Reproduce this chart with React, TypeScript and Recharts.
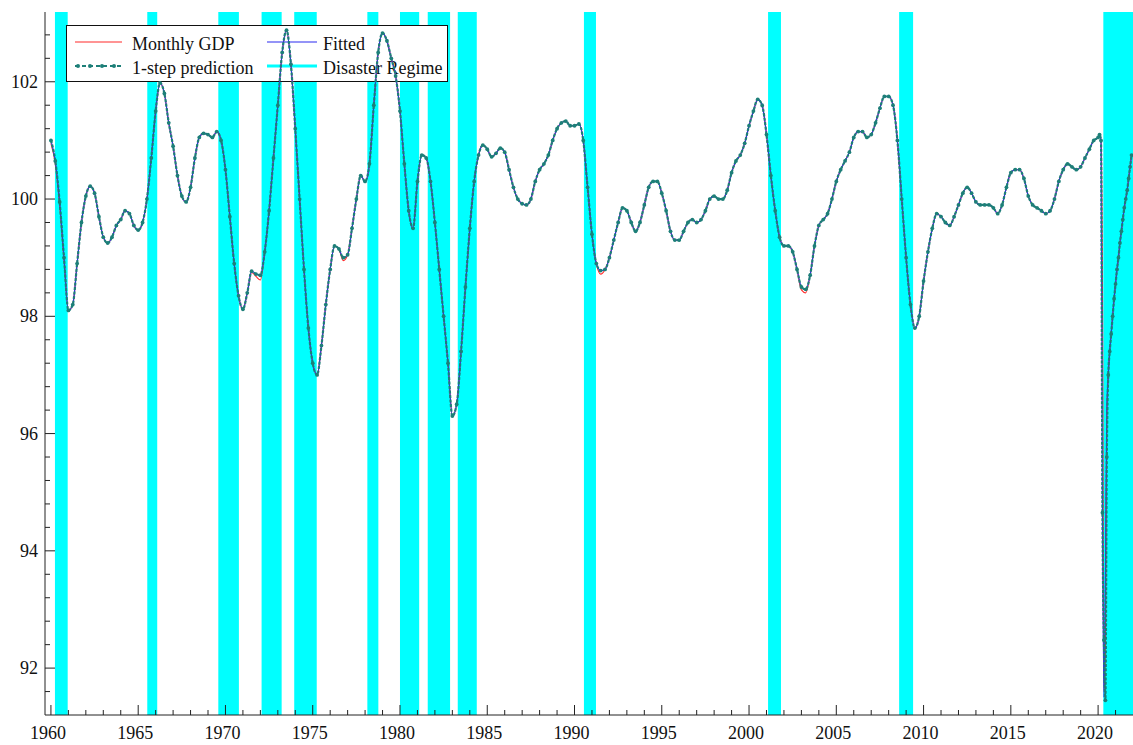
import { LineChart, Line, XAxis, YAxis, ReferenceArea } from "recharts";

const W = 1133;
const H = 745;
const FONT = '"Liberation Serif", "Times New Roman", serif';
const RED = "#ff2a2a";
const BLUE = "#2b2bf0";
const TEAL = "#1d7f78";
const CYAN = "#00ffff";
const INK = "#222";

// quarterly readings, 1960Q1 .. 2019Q4
const gdpQ = [
  100.95, 100.6, 99.9, 98.95, 98.1, 98.2, 98.9, 99.6, 100.05, 100.22, 100.1, 99.7,
  99.35, 99.25, 99.35, 99.55, 99.65, 99.8, 99.75, 99.55, 99.47, 99.6, 100.0, 100.7,
  101.5, 101.98, 101.8, 101.3, 100.9, 100.4, 100.05, 99.95, 100.2, 100.7, 101.05, 101.12,
  101.1, 101.05, 101.15, 101.0, 100.5, 99.7, 98.9, 98.35, 98.12, 98.4, 98.75, 98.68,
  98.62, 99.1, 99.8, 100.7, 101.6, 102.5, 102.88, 102.3, 101.2, 100.0, 98.8, 97.8,
  97.2, 97.0, 97.5, 98.2, 98.8, 99.2, 99.15, 98.95, 99.05, 99.5, 100.0, 100.4,
  100.3, 100.6, 101.6, 102.5, 102.83, 102.7, 102.4, 102.1, 101.5, 100.6, 99.8, 99.5,
  100.3, 100.75, 100.7, 100.3, 99.6, 98.8, 98.0, 97.2, 96.3, 96.5, 97.4, 98.5,
  99.5, 100.3, 100.75, 100.92, 100.85, 100.72, 100.78, 100.87, 100.8, 100.5, 100.2, 100.0,
  99.92, 99.9, 100.0, 100.3, 100.5, 100.6, 100.75, 101.0, 101.2, 101.3, 101.33, 101.25,
  101.25, 101.28, 101.0, 100.2, 99.4, 98.9, 98.72, 98.8, 99.0, 99.3, 99.6, 99.85,
  99.8, 99.6, 99.45, 99.6, 99.9, 100.2, 100.3, 100.3, 100.1, 99.8, 99.45, 99.3,
  99.3, 99.45, 99.6, 99.65, 99.6, 99.65, 99.8, 100.0, 100.05, 100.0, 100.0, 100.15,
  100.45, 100.65, 100.75, 100.95, 101.25, 101.5, 101.7, 101.6, 101.1, 100.4, 99.8, 99.35,
  99.2, 99.2, 99.1, 98.8, 98.45, 98.4, 98.7, 99.2, 99.55, 99.65, 99.75, 100.0,
  100.3, 100.5, 100.65, 100.8, 101.05, 101.15, 101.15, 101.05, 101.1, 101.3, 101.55, 101.75,
  101.75, 101.6, 101.0, 100.0, 99.0, 98.2, 97.8, 98.0, 98.6, 99.1, 99.5, 99.75,
  99.7, 99.6, 99.55, 99.7, 99.9, 100.1, 100.2, 100.1, 99.95, 99.9, 99.9, 99.9,
  99.85, 99.75, 99.9, 100.2, 100.45, 100.5, 100.5, 100.35, 100.05, 99.9, 99.85, 99.8,
  99.75, 99.8, 100.0, 100.3, 100.5, 100.6, 100.55, 100.5, 100.55, 100.7, 100.85, 101.0,
];

const fitQ = [
  101.0, 100.65, 99.95, 99.0, 98.1, 98.2, 98.9, 99.6, 100.05, 100.22, 100.1, 99.7,
  99.35, 99.25, 99.35, 99.55, 99.65, 99.8, 99.75, 99.55, 99.47, 99.6, 100.0, 100.7,
  101.5, 101.98, 101.8, 101.3, 100.9, 100.4, 100.05, 99.95, 100.2, 100.7, 101.05, 101.12,
  101.1, 101.05, 101.15, 101.0, 100.5, 99.7, 98.9, 98.35, 98.12, 98.4, 98.77, 98.72,
  98.7, 99.1, 99.8, 100.7, 101.6, 102.5, 102.88, 102.3, 101.2, 100.0, 98.8, 97.8,
  97.2, 97.0, 97.5, 98.2, 98.8, 99.2, 99.15, 99.0, 99.05, 99.5, 100.0, 100.4,
  100.3, 100.6, 101.6, 102.5, 102.83, 102.7, 102.4, 102.1, 101.5, 100.6, 99.8, 99.5,
  100.3, 100.75, 100.7, 100.3, 99.6, 98.8, 98.0, 97.2, 96.3, 96.5, 97.4, 98.5,
  99.5, 100.3, 100.75, 100.92, 100.85, 100.72, 100.78, 100.87, 100.8, 100.5, 100.2, 100.0,
  99.92, 99.9, 100.0, 100.3, 100.5, 100.6, 100.75, 101.0, 101.2, 101.3, 101.33, 101.25,
  101.25, 101.28, 101.0, 100.2, 99.4, 98.9, 98.78, 98.8, 99.0, 99.3, 99.6, 99.85,
  99.8, 99.6, 99.45, 99.6, 99.9, 100.2, 100.3, 100.3, 100.1, 99.8, 99.45, 99.3,
  99.3, 99.45, 99.6, 99.65, 99.6, 99.65, 99.8, 100.0, 100.05, 100.0, 100.0, 100.15,
  100.45, 100.65, 100.75, 100.95, 101.25, 101.5, 101.7, 101.6, 101.1, 100.4, 99.8, 99.35,
  99.2, 99.2, 99.1, 98.8, 98.5, 98.46, 98.7, 99.2, 99.55, 99.65, 99.75, 100.0,
  100.3, 100.5, 100.65, 100.8, 101.05, 101.15, 101.15, 101.05, 101.1, 101.3, 101.55, 101.75,
  101.75, 101.6, 101.0, 100.0, 99.0, 98.2, 97.8, 98.0, 98.6, 99.1, 99.5, 99.75,
  99.7, 99.6, 99.55, 99.7, 99.9, 100.1, 100.2, 100.1, 99.95, 99.9, 99.9, 99.9,
  99.85, 99.75, 99.9, 100.2, 100.45, 100.5, 100.5, 100.35, 100.05, 99.9, 99.85, 99.8,
  99.75, 99.8, 100.0, 100.3, 100.5, 100.6, 100.55, 100.5, 100.55, 100.7, 100.85, 101.0,
];

const predQ = [
  101.0, 100.65, 99.95, 99.0, 98.1, 98.2, 98.9, 99.6, 100.05, 100.22, 100.1, 99.7,
  99.35, 99.25, 99.35, 99.55, 99.65, 99.8, 99.75, 99.55, 99.47, 99.6, 100.0, 100.7,
  101.5, 101.98, 101.8, 101.3, 100.9, 100.4, 100.05, 99.95, 100.2, 100.7, 101.05, 101.12,
  101.1, 101.05, 101.15, 101.0, 100.5, 99.7, 98.9, 98.35, 98.12, 98.4, 98.77, 98.72,
  98.7, 99.1, 99.8, 100.7, 101.6, 102.5, 102.88, 102.3, 101.2, 100.0, 98.8, 97.8,
  97.2, 97.0, 97.5, 98.2, 98.8, 99.2, 99.15, 99.0, 99.05, 99.5, 100.0, 100.4,
  100.3, 100.6, 101.6, 102.5, 102.83, 102.7, 102.4, 102.1, 101.5, 100.6, 99.8, 99.5,
  100.3, 100.75, 100.7, 100.3, 99.6, 98.8, 98.0, 97.2, 96.3, 96.5, 97.4, 98.5,
  99.5, 100.3, 100.75, 100.92, 100.85, 100.72, 100.78, 100.87, 100.8, 100.5, 100.2, 100.0,
  99.92, 99.9, 100.0, 100.3, 100.5, 100.6, 100.75, 101.0, 101.2, 101.3, 101.33, 101.25,
  101.25, 101.28, 101.0, 100.2, 99.4, 98.9, 98.78, 98.8, 99.0, 99.3, 99.6, 99.85,
  99.8, 99.6, 99.45, 99.6, 99.9, 100.2, 100.3, 100.3, 100.1, 99.8, 99.45, 99.3,
  99.3, 99.45, 99.6, 99.65, 99.6, 99.65, 99.8, 100.0, 100.05, 100.0, 100.0, 100.15,
  100.45, 100.65, 100.75, 100.95, 101.25, 101.5, 101.7, 101.6, 101.1, 100.4, 99.8, 99.35,
  99.2, 99.2, 99.1, 98.8, 98.5, 98.46, 98.7, 99.2, 99.55, 99.65, 99.75, 100.0,
  100.3, 100.5, 100.65, 100.8, 101.05, 101.15, 101.15, 101.05, 101.1, 101.3, 101.55, 101.75,
  101.75, 101.6, 101.0, 100.0, 99.0, 98.2, 97.8, 98.0, 98.6, 99.1, 99.5, 99.75,
  99.7, 99.6, 99.55, 99.7, 99.9, 100.1, 100.2, 100.1, 99.95, 99.9, 99.9, 99.9,
  99.85, 99.75, 99.9, 100.2, 100.45, 100.5, 100.5, 100.35, 100.05, 99.9, 99.85, 99.8,
  99.75, 99.8, 100.0, 100.3, 100.5, 100.6, 100.55, 100.5, 100.55, 100.7, 100.85, 101.0,
];

// monthly readings, Jan 2020 .. Dec 2021
const gdpM = [
  101.05, 101.1, 101.0, 98.6, 91.6, 92.3, 96.2, 97.0, 97.4, 97.7, 98.0, 98.3,
  98.55, 98.8, 99.0, 99.25, 99.45, 99.65, 99.85, 100.0, 100.15, 100.35, 100.55, 100.75,
];
const fitM = [
  101.05, 101.1, 101.0, 94.6, 91.5, 93.5, 96.4, 97.0, 97.4, 97.7, 98.0, 98.3,
  98.55, 98.8, 99.0, 99.25, 99.45, 99.65, 99.85, 100.0, 100.15, 100.35, 100.55, 100.75,
];
const predM = [
  101.05, 101.1, 101.0, 94.65, 92.48, 91.45, 95.6, 97.0, 97.4, 97.7, 98.0, 98.3,
  98.55, 98.8, 99.0, 99.25, 99.45, 99.65, 99.85, 100.0, 100.15, 100.35, 100.55, 100.75,
];

// disaster regime spells (decimal years)
const regimeStart = [1960.23, 1965.52, 1969.59, 1972.07, 1973.94, 1978.13, 1980.0, 1981.59, 1983.31, 1990.54, 2001.09, 2008.6, 2020.3];
const regimeEnd = [1960.96, 1966.09, 1970.77, 1973.22, 1975.23, 1978.76, 1981.1, 1982.87, 1984.4, 1991.23, 2001.83, 2009.4, 2022.0];

const xDomain: [number, number] = [1959.66, 2022.0];
const yDomain: [number, number] = [91.2, 103.19];

const rows = [
  ...gdpQ.map((v, i) => ({ t: 1960 + i / 4, gdp: v, fit: fitQ[i], pred: predQ[i] })),
  ...gdpM.map((v, i) => ({ t: 2020 + i / 12, gdp: v, fit: fitM[i], pred: predM[i] })),
];

const yearTicks: number[] = [];
for (let y = 1960; y <= 2021; y++) yearTicks.push(y);
const valueTicks: number[] = [];
for (let k = 229; k <= 257; k++) valueTicks.push(Math.round(k * 4) / 10);

function XTick({ x, y, payload }: any) {
  const v = payload.value;
  const major = v % 5 === 0;
  return (
    <g>
      <line x1={x} x2={x} y1={y} y2={y - (major ? 10 : 5)} stroke={INK} />
      {major && (
        <text x={x - 3} y={y + 24} textAnchor="middle" fontFamily={FONT} fontSize={18} fill="#111">
          {v}
        </text>
      )}
    </g>
  );
}

function YTick({ x, y, payload }: any) {
  const v = payload.value;
  const r = Math.round(v);
  const major = Math.abs(v - r) < 1e-6 && r % 2 === 0;
  return (
    <g>
      <line x1={x} x2={x + (major ? 10 : 5)} y1={y} y2={y} stroke={INK} />
      {major && (
        <text x={x - 7} y={y + 6} textAnchor="end" fontFamily={FONT} fontSize={18} fill="#111">
          {r}
        </text>
      )}
    </g>
  );
}

function LegendBox() {
  const txt = { fontFamily: FONT, fontSize: 18, fill: "#111" };
  return (
    <svg width={W} height={100} style={{ position: "absolute", left: 0, top: 0 }}>
      <rect x={66.5} y={25.5} width={381} height={56} fill="#fff" stroke="#111" />
      <line x1={75} x2={122} y1={42} y2={42} stroke={RED} strokeWidth={1.2} />
      <text x={132} y={50} {...txt}>Monthly GDP</text>
      <line x1={75} x2={122} y1={66} y2={66} stroke={TEAL} strokeWidth={2} strokeDasharray="4 3" />
      {[78, 90, 102, 114].map((cx) => (
        <circle key={cx} cx={cx} cy={66} r={2} fill={TEAL} />
      ))}
      <text x={132} y={74} {...txt}>1-step prediction</text>
      <line x1={267} x2={317} y1={42} y2={42} stroke={BLUE} strokeWidth={1.2} />
      <text x={323} y={50} {...txt}>Fitted</text>
      <line x1={267} x2={317} y1={66} y2={66} stroke={CYAN} strokeWidth={3} />
      <text x={323} y={74} {...txt}>Disaster Regime</text>
    </svg>
  );
}

export default function App() {
  return (
    <div style={{ position: "fixed", left: 0, top: 0, width: W, height: H, background: "#fff" }}>
      <div style={{ position: "absolute", left: 0, top: 0 }}>
        <LineChart width={W} height={H} data={rows} margin={{ top: 12, right: 0, bottom: 30, left: 45 }}>
          <XAxis dataKey="t" type="number" domain={xDomain} hide allowDataOverflow />
          <YAxis type="number" domain={yDomain} hide allowDataOverflow />
          {regimeStart.map((s, i) => (
            <ReferenceArea
              key={s}
              x1={s}
              x2={regimeEnd[i]}
              fill={CYAN}
              fillOpacity={1}
              stroke="none"
              ifOverflow="hidden"
            />
          ))}
        </LineChart>
      </div>
      <LegendBox />
      <div style={{ position: "absolute", left: 0, top: 0 }}>
        <LineChart width={W} height={H} data={rows} margin={{ top: 12, right: 0, bottom: 0, left: 0 }}>
          <XAxis
            dataKey="t"
            type="number"
            domain={xDomain}
            ticks={yearTicks}
            interval={0}
            tick={<XTick />}
            tickLine={false}
            tickSize={0}
            tickMargin={0}
            height={30}
            axisLine={{ stroke: INK }}
            allowDataOverflow
          />
          <YAxis
            type="number"
            domain={yDomain}
            ticks={valueTicks}
            interval={0}
            tick={<YTick />}
            tickLine={false}
            tickSize={0}
            tickMargin={0}
            width={45}
            axisLine={{ stroke: INK }}
            allowDataOverflow
          />
          <Line dataKey="gdp" type="monotone" stroke={RED} strokeWidth={1.1} dot={false} isAnimationActive={false} />
          <Line dataKey="fit" type="monotone" stroke={BLUE} strokeWidth={1.1} dot={false} isAnimationActive={false} />
          <Line
            dataKey="pred"
            type="monotone"
            stroke={TEAL}
            strokeWidth={2.2}
            strokeDasharray="3 1.5"
            dot={{ r: 1.9, fill: TEAL, stroke: "none" }}
            isAnimationActive={false}
          />
        </LineChart>
      </div>
    </div>
  );
}
